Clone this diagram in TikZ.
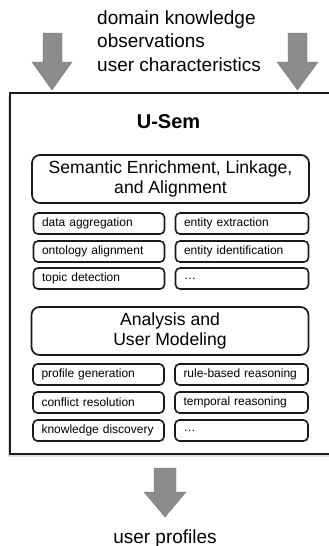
\documentclass[tikz,border=0pt]{standalone}
\usepackage{fontspec}
\setmainfont{Liberation Sans}
\usetikzlibrary{shadows}
\definecolor{arrowgray}{HTML}{8C8C8C}
\definecolor{ink}{HTML}{1A1A1A}
\tikzset{
  bigarrow/.style={fill=arrowgray, draw=arrowgray!80!black, line width=0.3pt},
  frame/.style={draw=ink, line width=2pt, fill=white, inner sep=0pt,
    drop shadow={opacity=0.25, shadow xshift=-1.5pt, shadow yshift=-3pt}},
  headbox/.style={draw=ink, line width=1.7pt, rounded corners=8pt, inner sep=0pt,
    minimum width=277pt, minimum height=48pt, align=center,
    font=\fontsize{17.6}{20.5}\selectfont},
  itembox/.style={draw=ink, line width=1.6pt, rounded corners=4.5pt, inner ysep=0pt,
    inner xsep=8.5pt, minimum height=21pt, align=left,
    font=\fontsize{12}{14}\selectfont},
  leftitem/.style={itembox, text width=114pt},
  rightitem/.style={itembox, text width=116pt},
}
\begin{document}
\begin{tikzpicture}[x=1pt,y=-1pt]
\clip (0,0) rectangle (329,546);
\fill[white] (0,0) rectangle (329,546);

% input text
\node[anchor=base west, align=left, inner sep=0pt,
  font=\fontsize{19}{23.5}\selectfont] (inputs) at (97,71)
  {domain knowledge\\observations\\user characteristics};

% top arrows
\draw[bigarrow] (43,33) -- (62,33) -- (62,62) -- (72,62) -- (52,90) -- (32,62) -- (43,62) -- cycle;
\draw[bigarrow] (288,33) -- (307,33) -- (307,62) -- (318,62) -- (297.5,90) -- (277,62) -- (288,62) -- cycle;

% main frame
\node[frame, minimum width=322pt, minimum height=361.5pt] (usem) at (170.5,273.25) {};
\node[font=\bfseries\fontsize{20}{24}\selectfont, anchor=base, inner sep=0pt] (title) at (168.5,128) {U-Sem};

% semantic enrichment block
\node[headbox] (sem) at (170.5,179) {Semantic Enrichment, Linkage,\\and Alignment};
\node[leftitem]  (s11) at (99,223.5) {data aggregation};
\node[rightitem] (s12) at (242,223.5) {entity extraction};
\node[leftitem]  (s21) at (99,251.5) {ontology alignment};
\node[rightitem] (s22) at (242,251.5) {entity identification};
\node[leftitem]  (s31) at (99,278.5) {topic detection};
\node[rightitem] (s32) at (242,278.5) {\ldots};

% analysis block
\node[headbox] (ana) at (170,331) {Analysis and\\User Modeling};
\node[leftitem]  (a11) at (98.5,374.5) {profile generation};
\node[rightitem] (a12) at (241.5,374.5) {rule-based reasoning};
\node[leftitem]  (a21) at (98.5,402.5) {conflict resolution};
\node[rightitem] (a22) at (241.5,402.5) {temporal reasoning};
\node[leftitem]  (a31) at (98.5,430.5) {knowledge discovery};
\node[rightitem] (a32) at (241.5,430.5) {\ldots};

% output arrow
\draw[bigarrow] (154,468) -- (176,468) -- (176,492) -- (186,492) -- (165,517) -- (144,492) -- (154,492) -- cycle;
\node[anchor=base, inner sep=0pt, font=\fontsize{19}{23}\selectfont] (out) at (165,543) {user profiles};
\end{tikzpicture}
\end{document}
